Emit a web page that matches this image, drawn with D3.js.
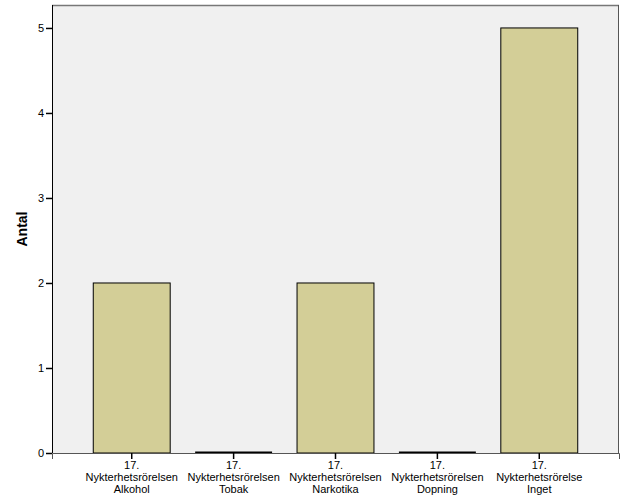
<!DOCTYPE html>
<html>
<head>
<meta charset="utf-8">
<script src="https://cdn.jsdelivr.net/npm/d3@7"></script>
<style>
  body { margin: 0; background: #fff; }
  text { font-family: "Liberation Sans", Arial, sans-serif; }
</style>
</head>
<body>
<div id="chart"></div>
<script>
'use strict';

// Data
const categories = [
  ["17.", "Nykterhetsrörelsen", "Alkohol"],
  ["17.", "Nykterhetsrörelsen", "Tobak"],
  ["17.", "Nykterhetsrörelsen", "Narkotika"],
  ["17.", "Nykterhetsrörelsen", "Dopning"],
  ["17.", "Nykterhetsrörelse", "Inget"]
];
const counts = [2, 0, 2, 0, 5];
const yTicks = [0, 1, 2, 3, 4, 5];

const W = 626, H = 501;
const margin = {top: 5, left: 52, right: 7, bottom: 48};
const w = W - margin.left - margin.right;
const h = H - margin.top - margin.bottom;

const svg = d3.select("#chart").append("svg")
  .attr("width", W).attr("height", H);
const g = svg.append("g")
  .attr("transform", `translate(${margin.left},${margin.top})`);

// plot background
g.append("rect")
  .attr("width", w).attr("height", h)
  .attr("fill", "#f0f0f0");
// top and right frame
g.append("line").attr("x1", 0).attr("x2", w).attr("y1", 0.5).attr("y2", 0.5)
  .attr("stroke", "#777").attr("stroke-width", 1.5);
g.append("line").attr("x1", w - 0.5).attr("x2", w - 0.5).attr("y1", 0).attr("y2", h)
  .attr("stroke", "#555");

const idx = categories.map((d, i) => i);
const x = d3.scaleBand().domain(idx).range([0, w]).paddingInner(0.245).paddingOuter(0.405);
const y = d3.scaleLinear().domain([0, 5.27]).range([h, 0]);

// bars
g.selectAll("rect.bar")
  .data(counts)
  .enter().append("rect")
  .attr("class", "bar")
  .attr("x", (d, i) => x(i))
  .attr("y", d => y(d))
  .attr("width", x.bandwidth())
  .attr("height", d => h - y(d))
  .attr("fill", "#d3ce97")
  .attr("stroke", "#000")
  .attr("stroke-width", 1);

// zero bars shown as thick line
g.selectAll("line.zero")
  .data(counts.map((d, i) => ({d, i})).filter(o => o.d === 0))
  .enter().append("line")
  .attr("x1", o => x(o.i)).attr("x2", o => x(o.i) + x.bandwidth())
  .attr("y1", h - 0.5).attr("y2", h - 0.5)
  .attr("stroke", "#000").attr("stroke-width", 2);

// x axis
const xAxis = g.append("g").attr("transform", `translate(0,${h})`)
  .call(d3.axisBottom(x).tickSize(6).tickFormat(""));
xAxis.select(".domain").attr("stroke", "#555");
xAxis.selectAll(".tick line").attr("stroke", "#000").attr("stroke-width", 1.5);
xAxis.selectAll(".tick").each(function(d) {
  const t = d3.select(this).append("text")
    .attr("text-anchor", "middle").attr("fill", "#000")
    .style("font-size", "11px");
  categories[d].forEach((line, k) => {
    t.append("tspan").attr("x", 0).attr("y", 16 + k * 12).text(line);
  });
});

// y axis
const yAxis = g.append("g")
  .call(d3.axisLeft(y).tickValues(yTicks).tickSize(6).tickFormat(d3.format("d")));
yAxis.select(".domain").attr("stroke", "#000").attr("d", `M0.5,${h}V0`);
yAxis.selectAll(".tick line").attr("stroke", "#000").attr("stroke-width", 1.5);
yAxis.selectAll(".tick text").attr("x", -8).style("font-size", "11px").attr("fill", "#000");

// y title
svg.append("text")
  .attr("transform", `translate(27,${margin.top + h / 2}) rotate(-90)`)
  .attr("text-anchor", "middle")
  .style("font-size", "14px").style("font-weight", "bold")
  .text("Antal");
</script>
</body>
</html>
